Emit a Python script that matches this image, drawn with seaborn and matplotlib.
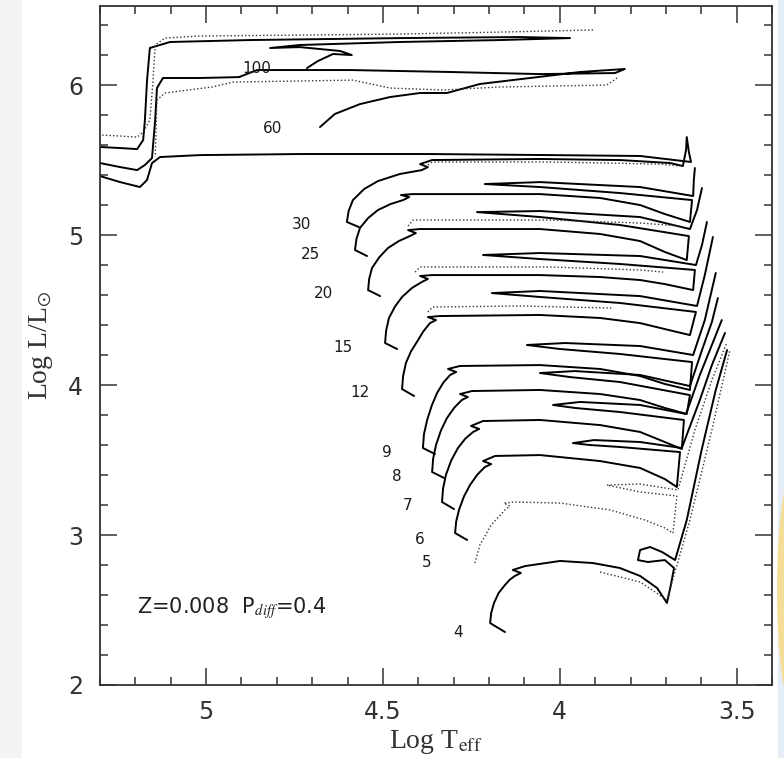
import matplotlib
matplotlib.use("Agg")
import matplotlib.pyplot as plt
import seaborn as sns
from matplotlib.patches import Rectangle, Ellipse
from matplotlib.ticker import MultipleLocator, FixedLocator, FuncFormatter

# ---- evolutionary tracks (log Teff, log L/Lsun) ----
# solid tracks
m4_T = [4.155, 4.197, 4.194, 4.186, 4.173, 4.155, 4.141, 4.127, 4.110, 4.133, 4.098, 3.999, 3.906, 3.830,
        3.773, 3.725, 3.697, 3.686, 3.677, 3.703, 3.751, 3.779, 3.773, 3.745, 3.711, 3.674, 3.641, 3.599,
        3.559, 3.527]
m4_L = [2.353, 2.413, 2.480, 2.547, 2.613, 2.667, 2.703, 2.727, 2.747, 2.767, 2.793, 2.827, 2.813, 2.780,
        2.727, 2.647, 2.547, 2.667, 2.780, 2.833, 2.820, 2.833, 2.900, 2.920, 2.887, 2.833, 3.100, 3.567,
        3.967, 4.233]

m6_T = [4.262, 4.296, 4.293, 4.285, 4.271, 4.254, 4.233, 4.212, 4.194, 4.217, 4.183, 4.056, 3.886, 3.773,
        3.703, 3.669, 3.660, 3.830, 3.915, 3.963, 3.903, 3.773, 3.655, 3.604, 3.570, 3.533]
m6_L = [2.967, 3.013, 3.090, 3.167, 3.257, 3.333, 3.403, 3.453, 3.473, 3.493, 3.527, 3.533, 3.493, 3.447,
        3.373, 3.320, 3.553, 3.587, 3.600, 3.613, 3.633, 3.620, 3.580, 3.900, 4.133, 4.347]

m7_T = [4.299, 4.333, 4.330, 4.322, 4.307, 4.288, 4.267, 4.245, 4.228, 4.251, 4.217, 4.056, 3.886, 3.773,
        3.703, 3.655, 3.649, 3.830, 3.957, 4.019, 3.943, 3.773, 3.643, 3.604, 3.570, 3.542]
m7_L = [3.173, 3.220, 3.310, 3.400, 3.497, 3.580, 3.643, 3.687, 3.707, 3.727, 3.760, 3.767, 3.733, 3.687,
        3.620, 3.573, 3.767, 3.820, 3.847, 3.867, 3.887, 3.867, 3.807, 4.067, 4.267, 4.433]

m8_T = [4.327, 4.361, 4.358, 4.350, 4.336, 4.319, 4.298, 4.277, 4.260, 4.282, 4.248, 4.056, 3.886, 3.773,
        3.703, 3.641, 3.632, 3.830, 3.971, 4.056, 3.957, 3.773, 3.632, 3.598, 3.570, 3.553]
m8_L = [3.380, 3.420, 3.510, 3.600, 3.697, 3.780, 3.850, 3.900, 3.920, 3.940, 3.960, 3.967, 3.940, 3.900,
        3.847, 3.807, 3.933, 4.020, 4.053, 4.080, 4.093, 4.067, 3.993, 4.233, 4.420, 4.580]

m9_T = [4.353, 4.387, 4.384, 4.375, 4.362, 4.347, 4.329, 4.310, 4.293, 4.316, 4.282, 4.056, 3.886, 3.773,
        3.703, 3.632, 3.626, 3.830, 3.999, 4.093, 3.985, 3.773, 3.623, 3.590, 3.559]
m9_L = [3.540, 3.580, 3.673, 3.767, 3.863, 3.947, 4.017, 4.067, 4.087, 4.107, 4.127, 4.133, 4.107, 4.060,
        4.007, 3.967, 4.153, 4.207, 4.240, 4.267, 4.280, 4.260, 4.200, 4.433, 4.747]

m12_T = [4.412, 4.446, 4.443, 4.435, 4.421, 4.404, 4.386, 4.367, 4.350, 4.373, 4.339, 4.056, 3.886, 3.773,
         3.703, 3.632, 3.615, 3.830, 4.056, 4.192, 4.056, 3.773, 3.612, 3.590, 3.567]
m12_L = [3.927, 3.973, 4.060, 4.147, 4.223, 4.287, 4.357, 4.413, 4.433, 4.453, 4.460, 4.467, 4.447, 4.413,
         4.373, 4.333, 4.487, 4.547, 4.587, 4.613, 4.627, 4.593, 4.527, 4.733, 4.987]

m15_T = [4.460, 4.494, 4.491, 4.483, 4.466, 4.446, 4.418, 4.390, 4.373, 4.395, 4.361, 4.056, 3.886, 3.773,
         3.703, 3.623, 3.618, 3.830, 4.056, 4.217, 4.056, 3.773, 3.615, 3.598, 3.584]
m15_L = [4.240, 4.280, 4.363, 4.447, 4.523, 4.587, 4.647, 4.687, 4.707, 4.727, 4.733, 4.733, 4.720, 4.700,
         4.673, 4.633, 4.767, 4.807, 4.840, 4.867, 4.880, 4.860, 4.800, 4.933, 5.087]

m20_T = [4.508, 4.542, 4.539, 4.531, 4.510, 4.486, 4.455, 4.424, 4.407, 4.429, 4.395, 4.056, 3.886, 3.773,
         3.703, 3.641, 3.635, 3.830, 4.056, 4.234, 4.056, 3.773, 3.632, 3.612, 3.598]
m20_L = [4.593, 4.633, 4.707, 4.780, 4.853, 4.913, 4.960, 4.993, 5.013, 5.033, 5.040, 5.040, 5.007, 4.960,
         4.887, 4.833, 4.993, 5.067, 5.120, 5.153, 5.160, 5.120, 5.040, 5.167, 5.313]

m25_T = [4.545, 4.579, 4.575, 4.565, 4.542, 4.514, 4.478, 4.443, 4.426, 4.449, 4.415, 4.056, 3.886, 3.773,
         3.703, 3.632, 3.626, 3.830, 4.056, 4.212, 4.056, 3.773, 3.623, 3.621, 3.618]
m25_L = [4.860, 4.900, 4.973, 5.047, 5.113, 5.167, 5.207, 5.233, 5.253, 5.267, 5.273, 5.273, 5.247, 5.200,
         5.140, 5.087, 5.233, 5.280, 5.320, 5.340, 5.353, 5.320, 5.260, 5.367, 5.447]

m30_T = [4.568, 4.602, 4.597, 4.585, 4.553, 4.514, 4.452, 4.390, 4.373, 4.395, 4.361, 4.056, 3.830, 3.688,
         3.652, 3.643, 3.641, 3.635, 3.629, 3.773, 4.028, 4.367, 4.735, 5.017, 5.130, 5.153, 5.167,
         5.187, 5.243, 5.300]
m30_L = [5.053, 5.087, 5.160, 5.233, 5.307, 5.360, 5.407, 5.433, 5.453, 5.473, 5.500, 5.507, 5.500, 5.480,
         5.460, 5.567, 5.653, 5.553, 5.487, 5.527, 5.533, 5.540, 5.540, 5.533, 5.520, 5.480, 5.367,
         5.320, 5.353, 5.393]

m60_T = [4.678, 4.636, 4.565, 4.480, 4.395, 4.319, 4.226, 4.084, 3.943, 3.816, 3.844, 4.056, 4.310,
         4.593, 4.856, 4.907, 5.017, 5.122, 5.139, 5.144, 5.153, 5.173, 5.195, 5.243, 5.300]
m60_L = [5.720, 5.807, 5.873, 5.920, 5.947, 5.947, 6.007, 6.047, 6.087, 6.107, 6.080, 6.073, 6.087,
         6.100, 6.100, 6.053, 6.047, 6.047, 5.980, 5.767, 5.513, 5.467, 5.433, 5.453, 5.480]

m100_T = [4.715, 4.684, 4.641, 4.588, 4.621, 4.735, 4.819, 4.735, 4.452, 4.169, 3.971, 4.113, 4.452,
          4.876, 5.102, 5.159, 5.167, 5.173, 5.178, 5.195, 5.243, 5.300]
m100_L = [6.113, 6.160, 6.207, 6.200, 6.227, 6.253, 6.247, 6.267, 6.287, 6.300, 6.313, 6.320, 6.313,
          6.300, 6.287, 6.247, 6.033, 5.767, 5.633, 5.573, 5.580, 5.587]

# dotted tracks
d100_T = [3.906, 4.169, 4.452, 4.735, 5.017, 5.116, 5.144, 5.150, 5.159, 5.178, 5.195, 5.243, 5.300]
d100_L = [6.367, 6.353, 6.340, 6.333, 6.327, 6.313, 6.267, 6.033, 5.767, 5.687, 5.653, 5.660, 5.667]

d60_T = [3.838, 3.867, 4.169, 4.330, 4.480, 4.585, 4.735, 4.924, 4.983, 5.116, 5.139, 5.144]
d60_L = [6.047, 6.000, 5.987, 5.967, 5.980, 6.033, 6.027, 6.020, 5.987, 5.947, 5.900, 5.520]

d30_T = [4.381, 4.361, 4.028, 3.717, 3.660]
d30_L = [5.453, 5.487, 5.487, 5.473, 5.460]

d25_T = [4.429, 4.415, 4.028, 3.773, 3.660]
d25_L = [5.060, 5.100, 5.100, 5.080, 5.060]

d20_T = [4.409, 4.395, 4.028, 3.773, 3.708]
d20_L = [4.753, 4.787, 4.787, 4.767, 4.753]

d15_T = [4.373, 4.359, 4.113, 3.849]
d15_L = [4.487, 4.520, 4.527, 4.513]

d5_T = [4.240, 4.226, 4.194, 4.155, 4.141, 4.158, 4.127, 3.999, 3.858, 3.759, 3.703, 3.680,
        3.669, 3.773, 3.867, 3.773, 3.666, 3.618, 3.570, 3.527]
d5_L = [2.813, 2.933, 3.067, 3.167, 3.193, 3.213, 3.220, 3.213, 3.167, 3.100, 3.047, 3.013,
        3.260, 3.287, 3.333, 3.340, 3.300, 3.700, 4.033, 4.287]

d4_T = [3.886, 3.773, 3.697, 3.632, 3.570, 3.519]
d4_L = [2.753, 2.687, 2.567, 3.100, 3.700, 4.233]

# mass labels
mass_labels = ["100", "60", "30", "25", "20", "15", "12", "9", "8", "7", "6", "5", "4"]
label_T = [4.856, 4.811, 4.729, 4.706, 4.669, 4.613, 4.565, 4.488, 4.460, 4.429, 4.395, 4.376, 4.288]
label_L = [6.107, 5.713, 5.067, 4.867, 4.613, 4.253, 3.953, 3.553, 3.387, 3.200, 2.967, 2.820, 2.353]

x_major = [5.0, 4.5, 4.0, 3.5]
y_major = [2, 3, 4, 5, 6]

solid_tracks = [(m4_T, m4_L), (m6_T, m6_L), (m7_T, m7_L), (m8_T, m8_L), (m9_T, m9_L),
                (m12_T, m12_L), (m15_T, m15_L), (m20_T, m20_L), (m25_T, m25_L),
                (m30_T, m30_L), (m60_T, m60_L), (m100_T, m100_L)]
dotted_tracks = [(d100_T, d100_L), (d60_T, d60_L), (d30_T, d30_L), (d25_T, d25_L),
                 (d20_T, d20_L), (d15_T, d15_L), (d5_T, d5_L), (d4_T, d4_L)]

sns.set_style("ticks")
plt.rcParams["font.family"] = ["DejaVu Sans"]
plt.rcParams["mathtext.fontset"] = "stix"

fig = plt.figure(figsize=(7.84, 7.58), dpi=100)
fig.patch.set_facecolor("white")

# soft page margins around the scanned panel
fig.patches.append(Rectangle((0, 0), 22 / 784, 1, transform=fig.transFigure,
                             facecolor="#f2f3f5", edgecolor="none", zorder=0))
fig.patches.append(Rectangle((778 / 784, 0), 6 / 784, 1, transform=fig.transFigure,
                             facecolor="#e4ecf5", edgecolor="none", zorder=0))
fig.patches.append(Ellipse((792 / 784, 1 - 590 / 758), 30 / 784, 230 / 758,
                           transform=fig.transFigure, facecolor="#f6dc8c",
                           edgecolor="none", alpha=0.9, zorder=0))

ax = fig.add_axes([100 / 784, 1 - 685 / 758, 672 / 784, 679 / 758])

for T, L in solid_tracks:
    sns.lineplot(x=T, y=L, sort=False, estimator=None, color="black", lw=1.4, ax=ax)
for T, L in dotted_tracks:
    sns.lineplot(x=T, y=L, sort=False, estimator=None, color="#333333", lw=1.0,
                 linestyle=(0, (1.0, 1.6)), ax=ax)

for s, t, l in zip(mass_labels, label_T, label_L):
    ax.text(t, l, s, ha="center", va="center", fontsize=11, color="#1a1a1a")

ax.text(5.195, 2.513, r"Z=0.008  P$_{\it diff}$=0.4", ha="left", va="center",
        fontsize=15, color="#222222")

ax.set_xlim(5.30, 3.40)
ax.set_ylim(2.0, 6.527)
ax.xaxis.set_major_locator(FixedLocator(x_major))
ax.yaxis.set_major_locator(FixedLocator(y_major))
ax.xaxis.set_minor_locator(MultipleLocator(0.1))
ax.yaxis.set_minor_locator(MultipleLocator(0.2))
fmt = FuncFormatter(lambda v, p: f"{v:g}")
ax.xaxis.set_major_formatter(fmt)
ax.yaxis.set_major_formatter(fmt)
ax.tick_params(which="both", direction="in", top=True, right=True, width=1.1, color="#333333")
ax.tick_params(which="major", length=12, labelsize=17, labelcolor="#333333")
ax.tick_params(axis="x", which="major", pad=11)
ax.tick_params(axis="y", which="major", pad=12)
ax.tick_params(which="minor", length=6)
for sp in ax.spines.values():
    sp.set_linewidth(1.3)
    sp.set_color("#333333")

ax.set_xlabel(r"Log T$_{\rm eff}$", fontsize=20, family="Liberation Serif", color="#333333")
ax.set_ylabel(r"Log L/L$_{\odot}$", fontsize=20, family="Liberation Serif", color="#333333")
ax.xaxis.set_label_coords(0.5, -0.063)
ax.yaxis.set_label_coords(-0.067, 0.5)

fig.savefig("out.png", dpi=100)
